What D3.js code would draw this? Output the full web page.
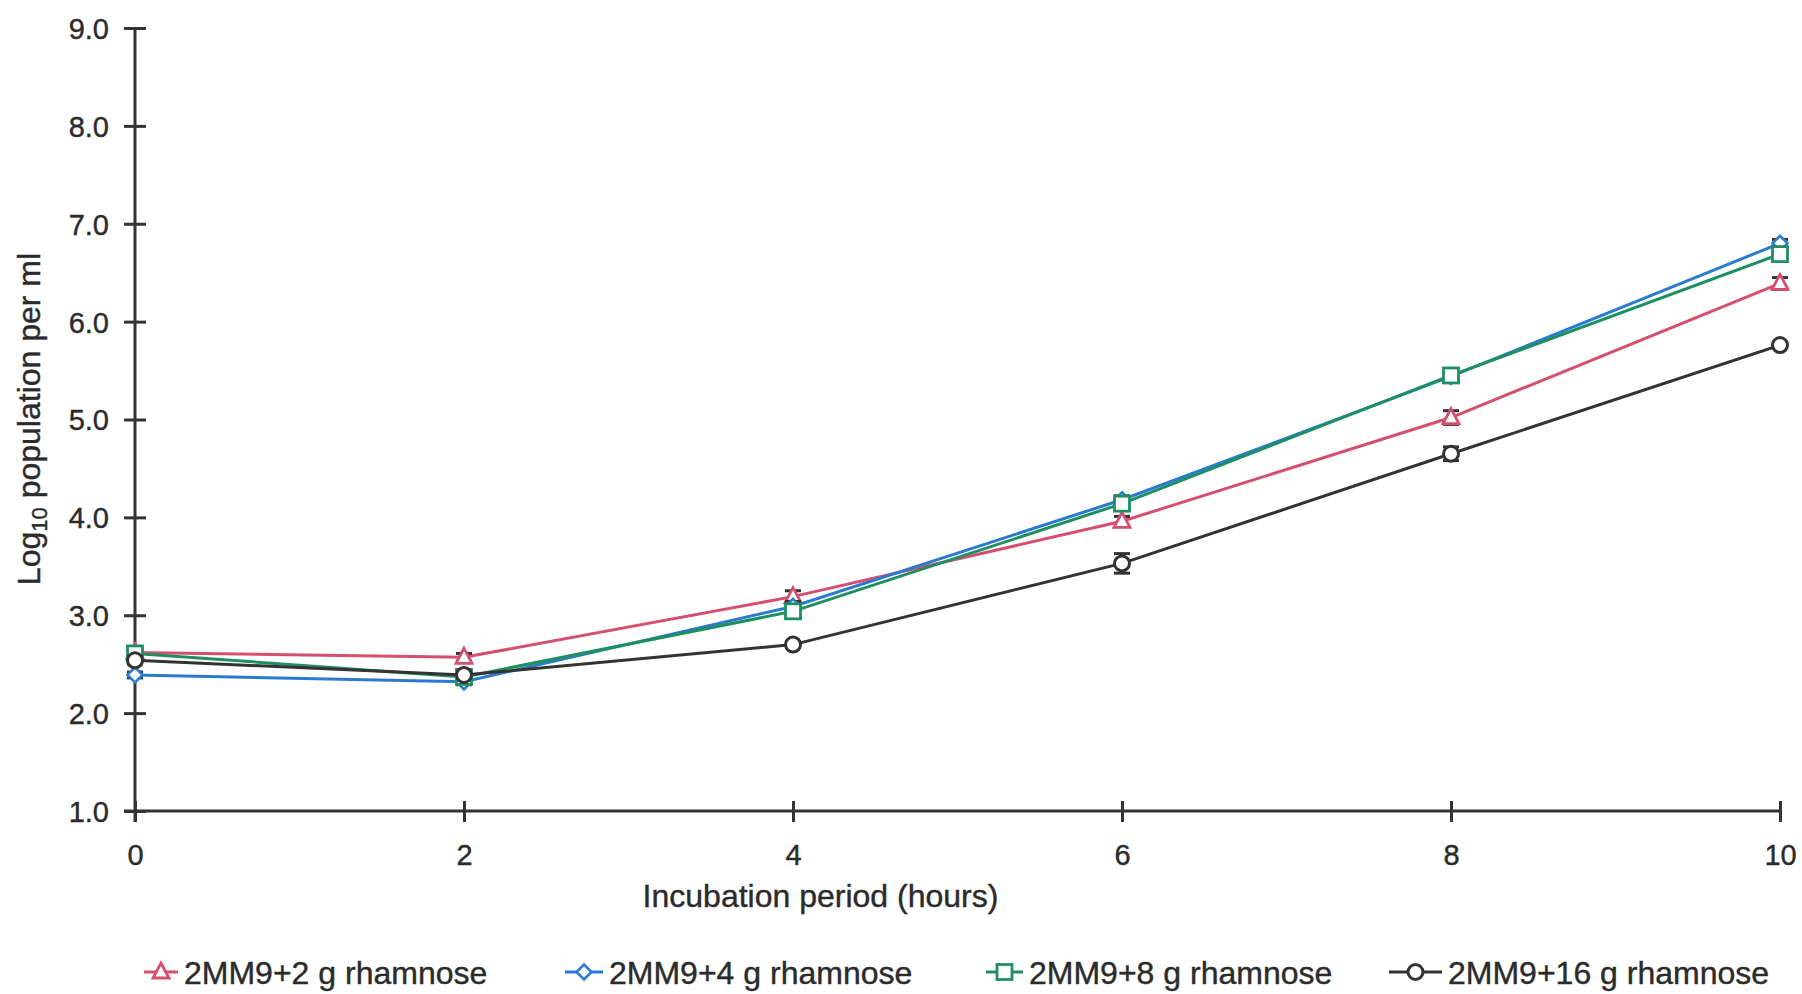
<!DOCTYPE html>
<html><head><meta charset="utf-8">
<script src="https://cdn.jsdelivr.net/npm/d3@7"></script>
<style>
html,body{margin:0;padding:0;background:#fff;}
svg text{font-family:"Liberation Sans",Arial,sans-serif;fill:#2b2b2b;stroke:#2b2b2b;stroke-width:0.4px;}
</style></head>
<body>
<svg id="chart" width="1802" height="994"></svg>
<script>
const hours = [0, 2, 4, 6, 8, 10];
const yTicks = [1, 2, 3, 4, 5, 6, 7, 8, 9];
const seriesNames = ["2MM9+2 g rhamnose", "2MM9+4 g rhamnose", "2MM9+8 g rhamnose", "2MM9+16 g rhamnose"];
const values2g  = [2.62, 2.57, 3.19, 3.96, 5.02, 6.39];
const values4g  = [2.39, 2.32, 3.09, 4.18, 5.44, 6.80];
const values8g  = [2.61, 2.37, 3.04, 4.14, 5.45, 6.69];
const values16g = [2.54, 2.39, 2.70, 3.53, 4.65, 5.76];
const err2g  = [0.03, 0.04, 0.06, 0.05, 0.07, 0.06];
const err4g  = [0.03, 0.03, 0.05, 0.04, 0.04, 0.04];
const err8g  = [0.03, 0.03, 0.05, 0.05, 0.04, 0.04];
const err16g = [0.04, 0.03, 0.03, 0.10, 0.07, 0.03];
const colors = ["#d4506e", "#2a7bd0", "#1f8f62", "#333333"];
const markers = ["triangle", "diamond", "square", "circle"];

const series = [
  {name: seriesNames[0], v: values2g, e: err2g},
  {name: seriesNames[1], v: values4g, e: err4g},
  {name: seriesNames[2], v: values8g, e: err8g},
  {name: seriesNames[3], v: values16g, e: err16g}
];

const svg = d3.select("#chart");
const x = d3.scaleLinear().domain([0, 10]).range([135, 1780]);
const y = d3.scaleLinear().domain([1, 9]).range([811, 28]);
const axisColor = "#333";

// axes
const yAxis = svg.append("g").attr("transform", `translate(${x(0)},0)`)
  .call(d3.axisLeft(y).tickValues(yTicks).tickFormat(d3.format(".1f")).tickSize(10).tickPadding(16));
yAxis.select(".domain").remove();
yAxis.selectAll(".tick line").attr("x1", -11).attr("x2", 11).attr("stroke", axisColor).attr("stroke-width", 3);
yAxis.selectAll(".tick text").attr("font-size", 29).attr("dy", "0.36em");
yAxis.append("line").attr("x1", 0).attr("x2", 0).attr("y1", y(9)).attr("y2", y(1) + 11)
  .attr("stroke", axisColor).attr("stroke-width", 3);

const xAxis = svg.append("g").attr("transform", `translate(0,${y(1)})`)
  .call(d3.axisBottom(x).tickValues(hours).tickFormat(d3.format("d")).tickSize(11).tickPadding(22));
xAxis.select(".domain").remove();
xAxis.selectAll(".tick line").attr("y1", -10).attr("y2", 11).attr("stroke", axisColor).attr("stroke-width", 3);
xAxis.selectAll(".tick text").attr("font-size", 29);
xAxis.append("line").attr("x1", x(0) - 11).attr("x2", x(10)).attr("y1", 0).attr("y2", 0)
  .attr("stroke", axisColor).attr("stroke-width", 3);

// axis titles
svg.append("text").attr("x", (x(0) + x(10)) / 2 - 137).attr("y", 907)
  .attr("text-anchor", "middle").attr("font-size", 32).text("Incubation period (hours)");
const yl = svg.append("text").attr("transform", "translate(40,419) rotate(-90)")
  .attr("text-anchor", "middle").attr("font-size", 32);
yl.append("tspan").text("Log");
yl.append("tspan").attr("font-size", 22).attr("dy", 7).text("10");
yl.append("tspan").attr("dy", -7).text(" population per ml");

function drawMarker(g, type, cx, cy, color) {
  if (type === "triangle") {
    const s = 8;
    g.append("path").attr("d", `M${cx},${cy - s - 1}L${cx + s},${cy + s - 2}L${cx - s},${cy + s - 2}Z`)
      .attr("fill", "#fff").attr("stroke", color).attr("stroke-width", 2.8);
  } else if (type === "diamond") {
    const s = 7.5;
    g.append("path").attr("d", `M${cx},${cy - s}L${cx + s},${cy}L${cx},${cy + s}L${cx - s},${cy}Z`)
      .attr("fill", "#fff").attr("stroke", color).attr("stroke-width", 2.6);
  } else if (type === "square") {
    const s = 7.5;
    g.append("rect").attr("x", cx - s).attr("y", cy - s).attr("width", 2 * s).attr("height", 2 * s)
      .attr("fill", "#fff").attr("stroke", color).attr("stroke-width", 2.8);
  } else {
    g.append("circle").attr("cx", cx).attr("cy", cy).attr("r", 7.5)
      .attr("fill", "#fff").attr("stroke", color).attr("stroke-width", 3);
  }
}

const line = d3.line().x((d, i) => x(hours[i])).y(d => y(d));

series.forEach((s, k) => {
  const g = svg.append("g");
  g.append("path").datum(s.v).attr("d", line).attr("fill", "none")
    .attr("stroke", colors[k]).attr("stroke-width", 3);
  s.v.forEach((v, i) => {
    const cx = x(hours[i]);
    const e = s.e[i];
    g.append("line").attr("x1", cx).attr("x2", cx).attr("y1", y(v + e)).attr("y2", y(v - e))
      .attr("stroke", "#333").attr("stroke-width", 2.5);
    [v + e, v - e].forEach(t => g.append("line").attr("x1", cx - 8).attr("x2", cx + 8)
      .attr("y1", y(t)).attr("y2", y(t)).attr("stroke", "#333").attr("stroke-width", 3));
  });
  s.v.forEach((v, i) => drawMarker(g, markers[k], x(hours[i]), y(v), colors[k]));
});

// legend
const legendX = [144, 565, 986, 1389];
const legendW = [34, 38, 37, 53];
const legY = 972;
series.forEach((s, k) => {
  const g = svg.append("g");
  const x0 = legendX[k], w = legendW[k];
  g.append("line").attr("x1", x0).attr("x2", x0 + w).attr("y1", legY).attr("y2", legY)
    .attr("stroke", colors[k]).attr("stroke-width", 3);
  drawMarker(g, markers[k], x0 + w / 2, legY, colors[k]);
  g.append("text").attr("x", x0 + w + 6).attr("y", legY).attr("dy", "0.36em")
    .attr("font-size", 32).text(s.name);
});
</script>
</body></html>
